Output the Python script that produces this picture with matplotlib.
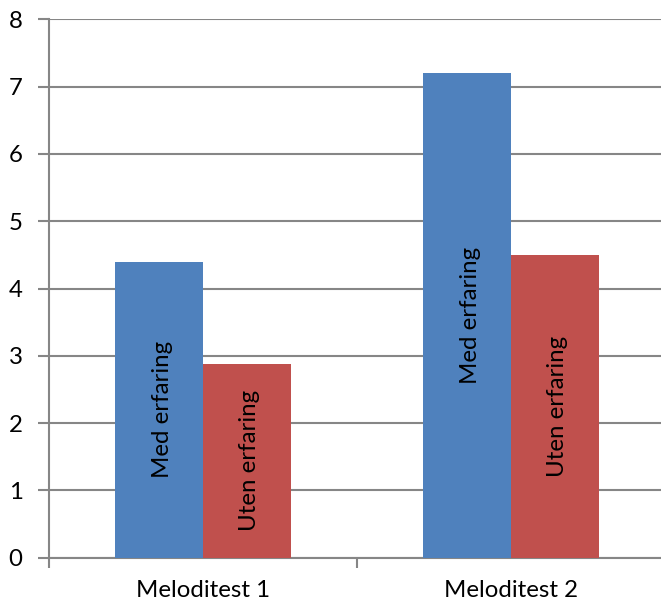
import numpy as np
import matplotlib
matplotlib.use('Agg')
import matplotlib.pyplot as plt

categories = ['Meloditest 1', 'Meloditest 2']
series_names = ['Med erfaring', 'Uten erfaring']
med_erfaring = [4.4, 7.2]
uten_erfaring = [2.88, 4.5]
y_ticks = [0, 1, 2, 3, 4, 5, 6, 7, 8]

plt.rcParams['font.family'] = ['Lato', 'DejaVu Sans']
FS = 17.3

def create_figure(outfile):
    fig_w, fig_h = 661, 606
    fig = plt.figure(figsize=(fig_w / 100, fig_h / 100), dpi=100)

    # plot area in pixels: left 49, right 665 (runs past the canvas), top 19, bottom 558
    left, right, top, bottom = 49, 665, 19.3, 557.7
    ax = fig.add_axes([left / fig_w, 1 - bottom / fig_h,
                       (right - left) / fig_w, (bottom - top) / fig_h])

    blue = '#4F81BD'
    red = '#C0504D'
    grid = '#868686'

    x = np.arange(len(categories))
    w = 0.285
    for vals, off, col, name in [(med_erfaring, -w / 2, blue, series_names[0]),
                                 (uten_erfaring, w / 2, red, series_names[1])]:
        bars = ax.bar(x + off, vals, width=w, color=col, zorder=3)
        for b, v in zip(bars, vals):
            ax.text(b.get_x() + b.get_width() / 2 + 3 / 308, v / 2, name,
                    rotation=90, ha='center', va='center', fontsize=FS,
                    color='black', zorder=4)

    ax.set_xlim(-0.5, 1.5)
    ax.set_ylim(0, 8)
    ax.set_yticks(y_ticks)
    ax.set_yticklabels([str(t) for t in y_ticks], fontsize=FS)
    ax.yaxis.grid(True, color=grid, linewidth=1.5, zorder=0)
    ax.set_axisbelow(True)

    # category ticks sit at the group boundaries, labels at the centres
    ax.set_xticks([-0.5, 0.5, 1.5])
    ax.set_xticklabels([])
    ax.set_xticks(x, minor=True)
    ax.set_xticklabels(categories, minor=True, fontsize=FS)
    ax.tick_params(axis='x', which='minor', length=0, pad=16)
    ax.tick_params(axis='x', which='major', length=7, width=1.5, color=grid)
    ax.tick_params(axis='y', length=8, width=1.5, color=grid, pad=11)

    for s in ['top', 'right']:
        ax.spines[s].set_visible(False)
    for s in ['left', 'bottom']:
        ax.spines[s].set_color(grid)
        ax.spines[s].set_linewidth(1.5)

    fig.savefig(outfile, dpi=100)


if __name__ == '__main__':
    create_figure('out.png')
